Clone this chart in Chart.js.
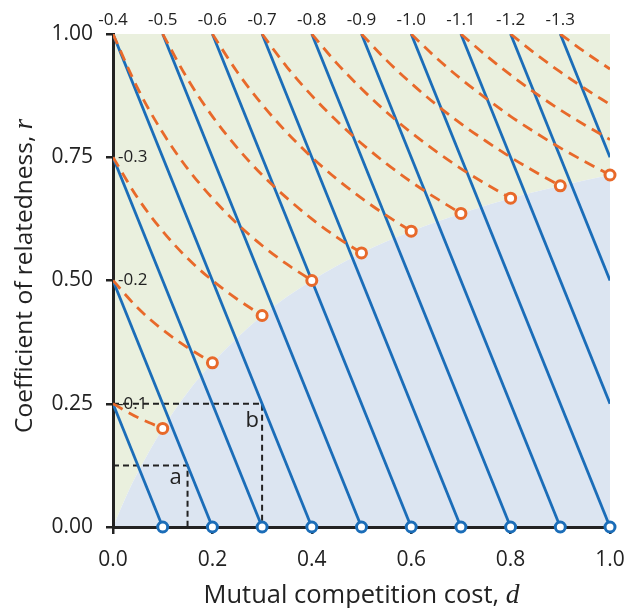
<!DOCTYPE html>
<html><head><meta charset="utf-8">
<script src="https://cdn.jsdelivr.net/npm/chart.js@4.4.0/dist/chart.umd.min.js"></script>
<style>html,body{margin:0;padding:0;background:#fff;}canvas{display:block;}</style>
</head><body>
<canvas id="c" width="626" height="608" style="width:626px;height:608px"></canvas>
<script>
// ---- data ----
const dSteps = [0,0.05,0.10,0.15,0.20,0.25,0.30,0.35,0.40,0.45,0.50,0.55,0.60,0.65,0.70,0.75,0.80,0.85,0.90,0.95,1.00];
const costLabels = ['-0.1','-0.2','-0.3','-0.4','-0.5','-0.6','-0.7','-0.8','-0.9','-1.0','-1.1','-1.2','-1.3'];
const blueTopD = [0,0,0,0,0.1,0.2,0.3,0.4,0.5,0.6,0.7,0.8,0.9];
const blueTopR = [0.25,0.5,0.75,1,1,1,1,1,1,1,1,1,1];
const blueEndD = [0.1,0.2,0.3,0.4,0.5,0.6,0.7,0.8,0.9,1.0,1.0,1.0,1.0];
const blueEndR = [0,0,0,0,0,0,0,0,0,0,0.25,0.5,0.75];
const orangeStartIdx = [0,0,0,0,2,4,6,8,10,12,14,16,18];
const orangeR = [
  [0.25,0.222,0.2],
  [0.5,0.444,0.4,0.364,0.333],
  [0.75,0.667,0.6,0.545,0.5,0.462,0.429],
  [1,0.889,0.8,0.727,0.667,0.615,0.571,0.533,0.5],
  [1,0.909,0.833,0.769,0.714,0.667,0.625,0.588,0.556],
  [1,0.923,0.857,0.8,0.75,0.706,0.667,0.632,0.6],
  [1,0.933,0.875,0.824,0.778,0.737,0.7,0.667,0.636],
  [1,0.941,0.889,0.842,0.8,0.762,0.727,0.696,0.667],
  [1,0.947,0.9,0.857,0.818,0.783,0.75,0.72,0.692],
  [1,0.952,0.909,0.870,0.833,0.8,0.769,0.741,0.714],
  [1,0.957,0.917,0.88,0.846,0.815,0.786],
  [1,0.96,0.923,0.889,0.857],
  [1,0.963,0.929]
];
const boundaryD = [0,0.025,0.05,0.1,0.15,0.2,0.3,0.4,0.5,0.6,0.7,0.8,0.9,1.0];
const boundaryR = [0,0.059,0.111,0.2,0.273,0.333,0.429,0.5,0.556,0.6,0.636,0.667,0.692,0.714];
const dotD = [0.1,0.2,0.3,0.4,0.5,0.6,0.7,0.8,0.9,1.0];
const orangeDotR = [0.2,0.333,0.429,0.5,0.556,0.6,0.636,0.667,0.692,0.714];
const blueDotR = [0,0,0,0,0,0,0,0,0,0];
const guideD = [0.15,0.3];
const guideR = [0.125,0.25];
const guideLabels = ['a','b'];
const xTicks = ['0.0','0.2','0.4','0.6','0.8','1.0'];
const yTicks = ['0.00','0.25','0.50','0.75','1.00'];

// ---- styles ----
const BLUE = '#1b6db8', ORANGE = '#e8692a', GREEN_BG = '#eaf0de', BLUE_BG = '#dce5f1', INK = '#222';
const FONT = '"Open Sans", "Noto Sans", sans-serif';
const SERIF_IT = '"Liberation Serif", "DejaVu Serif", serif';

const datasets = [];
const boundary = boundaryD.map((d,i)=>({x:d,y:boundaryR[i]}));
datasets.push({data:boundary, showLine:true, fill:'start', backgroundColor:BLUE_BG, borderWidth:0, pointRadius:0, cubicInterpolationMode:'monotone', order:10});
datasets.push({data:boundary, showLine:true, fill:'end', backgroundColor:GREEN_BG, borderWidth:0, pointRadius:0, cubicInterpolationMode:'monotone', order:10});
guideD.forEach((d,i)=>{
  datasets.push({data:[{x:0,y:guideR[i]},{x:d,y:guideR[i]},{x:d,y:0}], showLine:true, borderColor:INK, borderWidth:2, borderDash:[6,4], pointRadius:0, fill:false, order:6});
});
blueTopD.forEach((d,i)=>{
  datasets.push({data:[{x:d,y:blueTopR[i]},{x:blueEndD[i],y:blueEndR[i]}], showLine:true, borderColor:BLUE, borderWidth:2.8, pointRadius:0, fill:false, order:4});
});
orangeR.forEach((arr,i)=>{
  const s = orangeStartIdx[i];
  datasets.push({data:arr.map((r,j)=>({x:dSteps[s+j],y:r})), showLine:true, borderColor:ORANGE, borderWidth:2.8, borderDash:[11,7], pointRadius:0, fill:false, cubicInterpolationMode:'monotone', order:3});
});
datasets.push({data:dotD.map((d,i)=>({x:d,y:orangeDotR[i]})), showLine:false, pointRadius:5, pointBorderWidth:3, pointBackgroundColor:'#fff', pointBorderColor:ORANGE, clip:false, order:1});
datasets.push({data:dotD.map((d,i)=>({x:d,y:blueDotR[i]})), showLine:false, pointRadius:5, pointBorderWidth:3, pointBackgroundColor:'#fff', pointBorderColor:BLUE, clip:false, order:1});

const textPlugin = {
  id:'texts',
  afterDraw(chart){
    const ctx = chart.ctx, xs = chart.scales.x, ys = chart.scales.y, ca = chart.chartArea;
    ctx.save();
    ctx.fillStyle = INK;
    ctx.font = '17px ' + FONT;
    ctx.textAlign = 'center'; ctx.textBaseline = 'middle';
    costLabels.forEach((t,i)=>{
      if (blueTopR[i] === 1) ctx.fillText(t, xs.getPixelForValue(blueTopD[i]), ca.top - 14);
    });
    ctx.textAlign = 'left';
    costLabels.forEach((t,i)=>{
      if (blueTopR[i] < 1) ctx.fillText(t, ca.left + 5, ys.getPixelForValue(blueTopR[i]));
    });
    ctx.font = '22px ' + FONT;
    ctx.textAlign = 'center';
    ctx.fillText(guideLabels[0], xs.getPixelForValue(guideD[0]-0.024), ys.getPixelForValue(guideR[0]-0.025));
    ctx.fillText(guideLabels[1], xs.getPixelForValue(guideD[1]-0.02), ys.getPixelForValue(guideR[1]-0.034));
    function mixed(main, ital, cx, cy, size){
      ctx.font = size + 'px ' + FONT;
      const w1 = ctx.measureText(main).width;
      ctx.font = 'italic ' + (size+2) + 'px ' + SERIF_IT;
      const w2 = ctx.measureText(ital).width;
      const x0 = cx - (w1+w2)/2;
      ctx.textAlign = 'left'; ctx.textBaseline = 'alphabetic';
      ctx.font = size + 'px ' + FONT;
      ctx.fillText(main, x0, cy);
      ctx.font = 'italic ' + (size+2) + 'px ' + SERIF_IT;
      ctx.fillText(ital, x0 + w1, cy);
    }
    mixed('Mutual competition cost, ', 'd', (ca.left+ca.right)/2, 603, 25.5);
    ctx.save();
    ctx.translate(32, 276);
    ctx.rotate(-Math.PI/2);
    mixed('Coefficient of relatedness, ', 'r', 0, 0, 24.5);
    ctx.restore();
    ctx.restore();
  }
};

new Chart(document.getElementById('c'), {
  type:'scatter',
  data:{datasets},
  options:{
    responsive:false, animation:false,
    layout:{padding:{top:34, right:16, left:0, bottom:0}},
    plugins:{legend:{display:false}, tooltip:{enabled:false}, filler:{drawTime:'beforeDraw'}},
    scales:{
      x:{type:'linear', min:0, max:1,
        afterFit(s){ s.height = 81; s.paddingLeft = 0; s.paddingRight = 0; },
        afterBuildTicks(s){ s.ticks = xTicks.map(t=>({value:parseFloat(t)})); },
        ticks:{callback:(v)=>v.toFixed(1), font:{family:FONT,size:21}, color:INK, padding:13, maxRotation:0, autoSkip:false},
        grid:{drawOnChartArea:false, drawTicks:true, tickLength:7, color:INK, lineWidth:2.5},
        border:{display:true, color:INK, width:3}
      },
      y:{type:'linear', min:0, max:1,
        afterFit(s){ s.width = 113; s.paddingTop = 0; s.paddingBottom = 0; },
        afterBuildTicks(s){ s.ticks = yTicks.map(t=>({value:parseFloat(t)})); },
        ticks:{callback:(v)=>v.toFixed(2), font:{family:FONT,size:21}, color:INK, padding:13, autoSkip:false},
        grid:{drawOnChartArea:false, drawTicks:true, tickLength:7, color:INK, lineWidth:2.5},
        border:{display:true, color:INK, width:3}
      }
    }
  },
  plugins:[textPlugin]
});
</script>
</body></html>
